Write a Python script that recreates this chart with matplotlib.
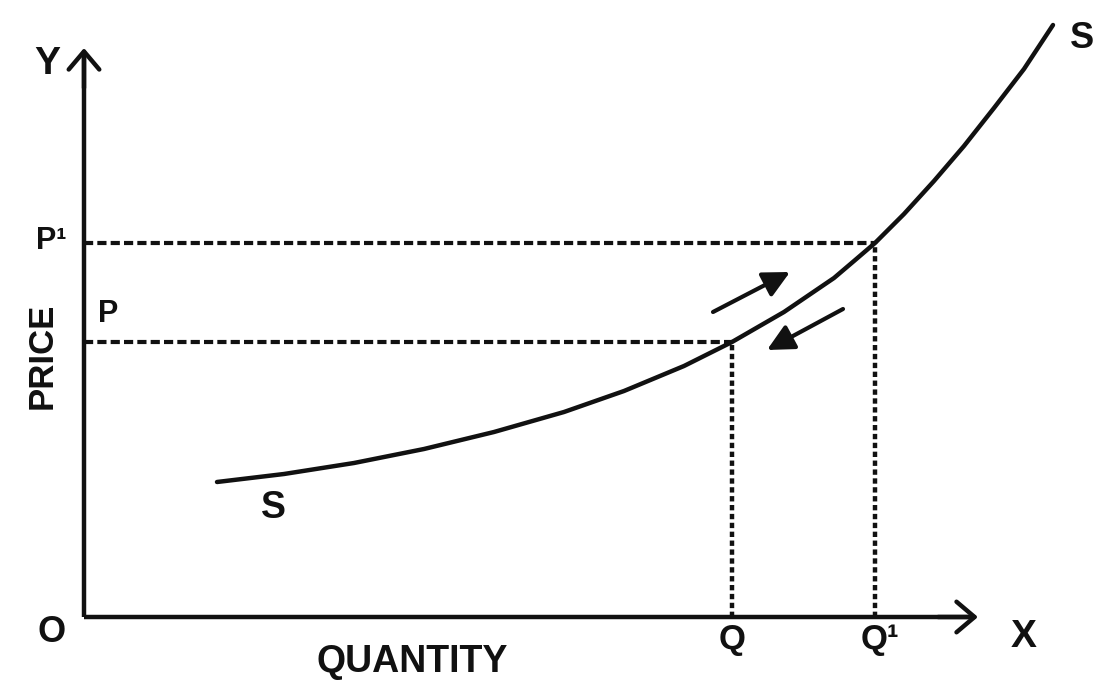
import matplotlib
matplotlib.use("Agg")
import matplotlib.pyplot as plt

# ---- data (economic units: quantity to the right, price upward, origin at O) ----
curve_q = [133, 200, 270, 340, 410, 480, 540, 600, 648, 700, 750, 770, 791,
           820, 850, 880, 910, 940, 969]
curve_p = [135, 143, 154, 168, 185, 205, 226, 251, 275, 305, 339, 356, 374,
           403, 436, 471, 509, 548, 592]

price_P, price_P1 = 275, 374
qty_Q, qty_Q1 = 648, 791

y_axis_top = 569
x_axis_end = 894

up_arrow = [(629, 305), (706, 345)]
down_arrow = [(759, 308), (683, 267)]

INK = "#111111"
FONT = "Liberation Sans"

fig = plt.figure(figsize=(10.94, 6.8), dpi=100)
ax = fig.add_axes([0, 0, 1, 1])
ax.set_xlim(-84, 1010)
ax.set_ylim(-63, 617)
ax.axis("off")

# axes with arrow heads
ax.plot([0, 0], [0, y_axis_top - 4], color=INK, lw=3.2, solid_capstyle="butt")
ax.plot([0, x_axis_end - 4], [0, 0], color=INK, lw=3.2, solid_capstyle="butt")
ax.annotate("", xy=(0, y_axis_top), xytext=(0, y_axis_top - 40),
            arrowprops=dict(arrowstyle="->,head_length=0.65,head_width=0.55",
                            lw=3.2, color=INK, shrinkA=0, shrinkB=0,
                            mutation_scale=20))
ax.annotate("", xy=(x_axis_end, 0), xytext=(x_axis_end - 40, 0),
            arrowprops=dict(arrowstyle="->,head_length=0.65,head_width=0.55",
                            lw=3.2, color=INK, shrinkA=0, shrinkB=0,
                            mutation_scale=20))

# dashed guide lines
ax.plot([0, qty_Q1], [price_P1, price_P1], color=INK, lw=3, ls=(0, (2.2, 1.0)))
ax.plot([0, qty_Q], [price_P, price_P], color=INK, lw=3, ls=(0, (2.2, 1.0)))
ax.plot([qty_Q, qty_Q], [0, price_P], color=INK, lw=3.2, ls=(0, (1.2, 0.8)))
ax.plot([qty_Q1, qty_Q1], [0, price_P1], color=INK, lw=3.2, ls=(0, (1.2, 0.8)))

# supply curve
ax.plot(curve_q, curve_p, color=INK, lw=3.2, solid_capstyle="round",
        solid_joinstyle="round")

# movement arrows
for (tail, tip) in (up_arrow, down_arrow):
    ax.annotate("", xy=tip, xytext=tail,
                arrowprops=dict(arrowstyle="-|>,head_length=0.8,head_width=0.4",
                                lw=3, color=INK, shrinkA=0, shrinkB=0,
                                mutation_scale=20))

txt = dict(family=FONT, weight="bold", color=INK, ha="center", va="center")
ax.text(-37, 553, "Y", fontsize=28, **txt)
ax.text(-33, 376, "P¹", fontsize=22, **txt)
ax.text(24, 303, "P", fontsize=22, **txt)
ax.text(-42, 261, "PRICE", fontsize=25, rotation=90, **txt)
ax.text(-32, -16, "O", fontsize=26, **txt)
ax.text(328, -45, "QUANTITY", fontsize=27, **txt)
ax.text(qty_Q, -23, "Q", fontsize=25, **txt)
ax.text(qty_Q1 + 5, -23, "Q¹", fontsize=25, **txt)
ax.text(940, -20, "X", fontsize=28, **txt)
ax.text(998, 579, "S", fontsize=26, **txt)
ax.text(189, 109, "S", fontsize=27, **txt)

fig.savefig("out.png", dpi=100, facecolor="white")
